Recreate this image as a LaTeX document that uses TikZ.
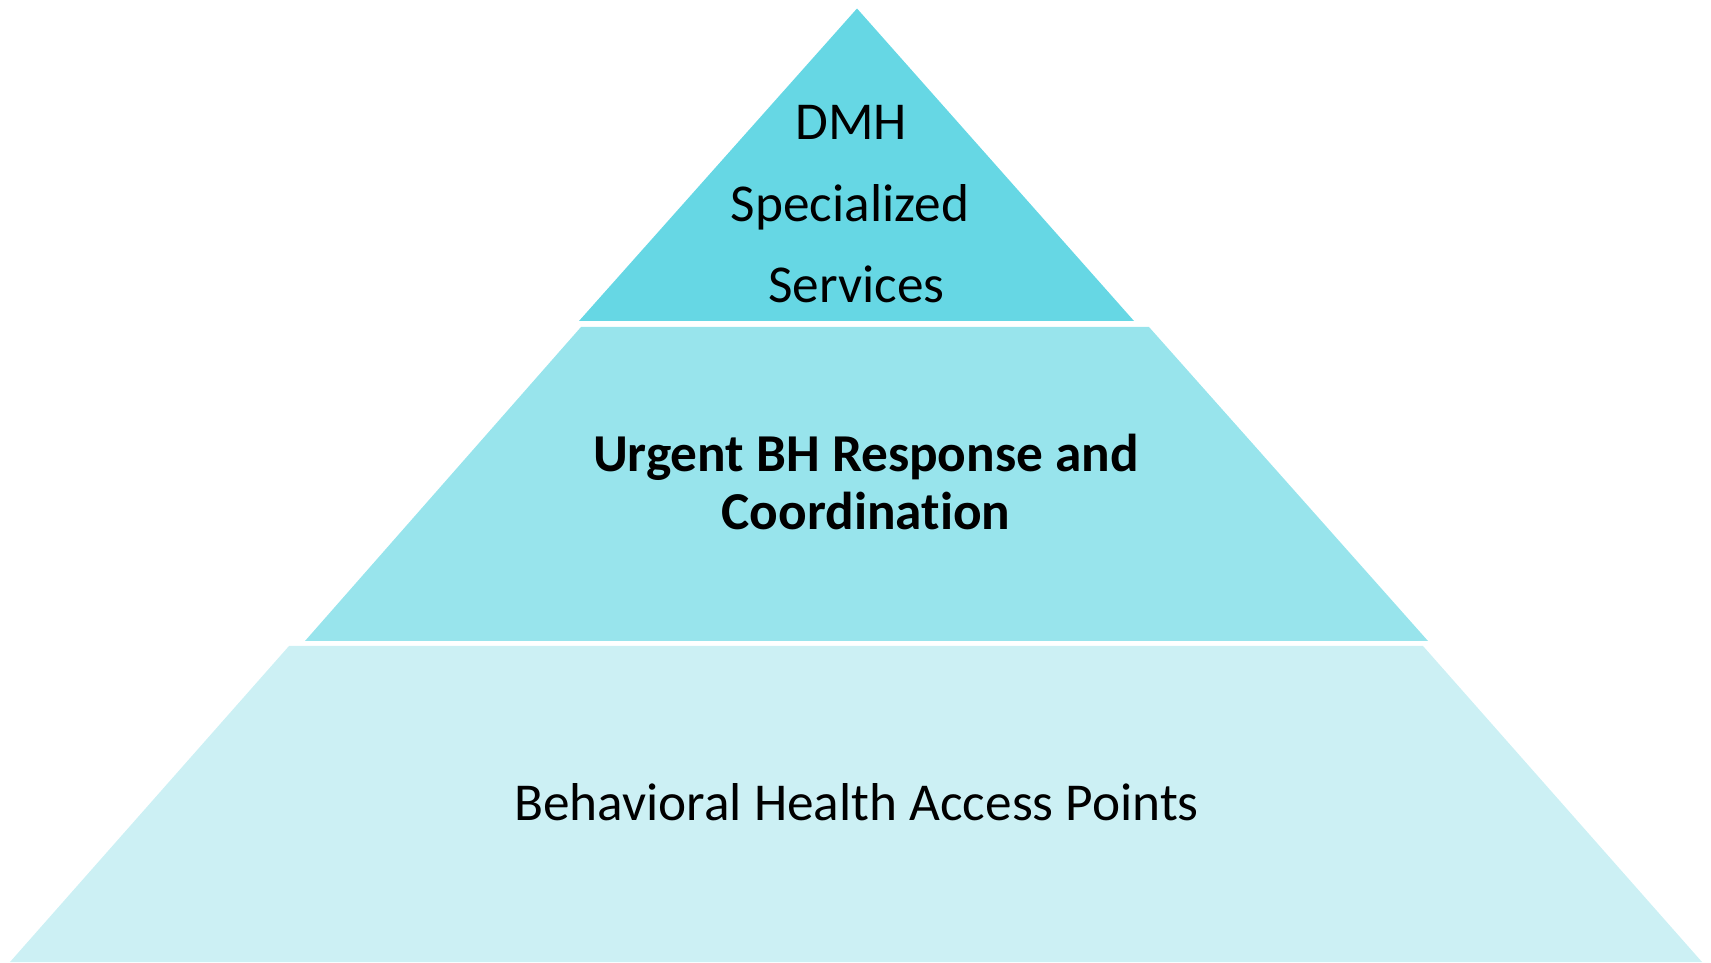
\documentclass[tikz,border=0pt]{standalone}
\usepackage{fontspec}
\setmainfont{Carlito}[Ligatures=NoCommon]
\definecolor{tierA}{RGB}{102,215,228}
\definecolor{tierB}{RGB}{152,228,236}
\definecolor{tierC}{RGB}{204,240,244}
\tikzset{
  lbl/.style={anchor=base, inner sep=0pt, font=\fontsize{53.3}{60}\selectfont},
  lblbold/.style={lbl, font=\fontsize{53.3}{60}\selectfont\bfseries}
}
\begin{document}
\begin{tikzpicture}[x=1pt,y=1pt]
\useasboundingbox (0,0) rectangle (1711,962);
% top tier
\fill[tierA] (857,953.5) -- (1134,641) -- (579,641) -- cycle;
% middle tier
\fill[tierB] (581,635) -- (1149,635) -- (1428,321) -- (305,321) -- cycle;
% bottom tier
\fill[tierC] (289,316) -- (1423,316) -- (1702,0) -- (10,0) -- cycle;
% texts
\node[lbl] (t1) at (851,822.3) {DMH};
\node[lbl] (t2) at (850,740.5) {Specialized};
\node[lbl] (t3) at (856.6,659.7) {Services};
\node[lblbold] (m1) at (866,490.5) {Urgent BH Response and};
\node[lblbold] (m2) at (866,432) {Coordination};
\node[lbl] (b1) at (856.6,141.4) {Behavioral Health Access Points};
\end{tikzpicture}
\end{document}
